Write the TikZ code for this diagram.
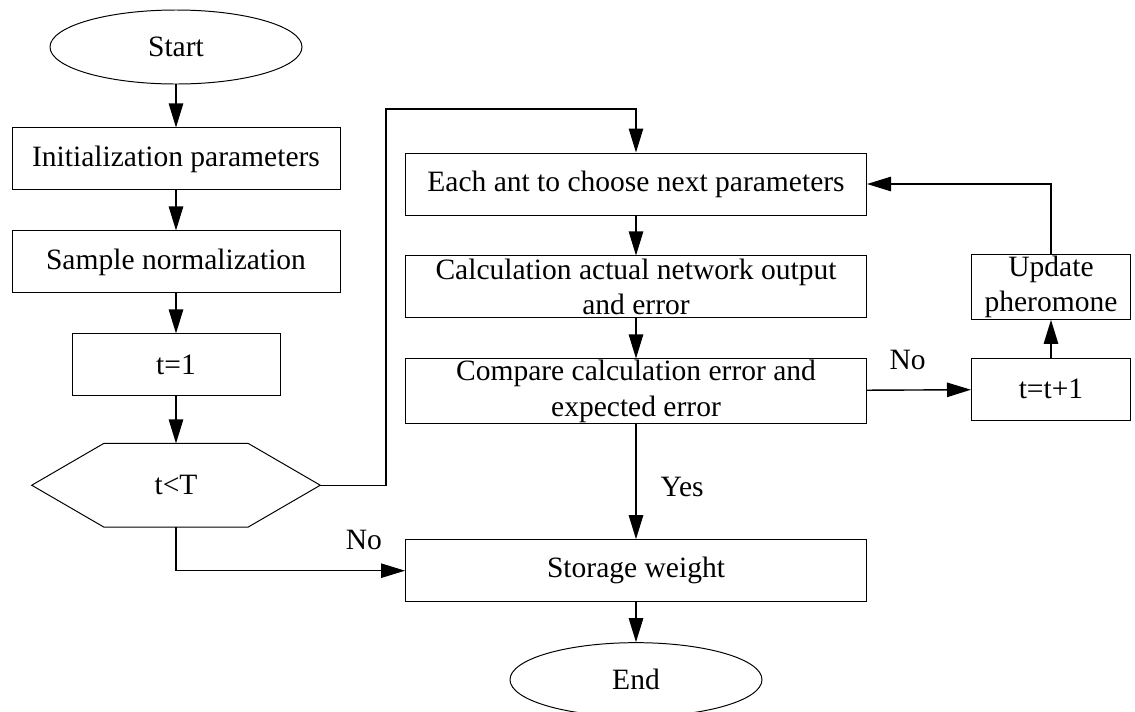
\documentclass[tikz,border=0pt]{standalone}
\usepackage{fontspec}
\setmainfont{Liberation Serif}
\usepackage{tikz}
\usetikzlibrary{positioning,arrows.meta,shapes.geometric,calc}
\tikzset{
  node-box/.style={draw,line width=0.7pt,minimum height=15.5mm,
    inner sep=1pt,align=center,font=\fontsize{21}{25}\selectfont},
  node-left/.style={node-box,minimum width=82mm},
  node-wide/.style={node-box,minimum width=115.25mm},
  node-small/.style={node-box,minimum width=39.75mm},
  node-term/.style={draw,line width=0.7pt,ellipse,minimum width=63mm,
    minimum height=18.5mm,inner sep=0pt,font=\fontsize{21}{25}\selectfont},
  node-label/.style={font=\fontsize{21}{25}\selectfont,inner sep=0pt},
  arrow/.style={-{Triangle[length=6mm,width=3.6mm]},line width=1pt},
  line/.style={line width=1pt},
}
\begin{document}
\begin{tikzpicture}[node distance=10mm and 26mm]
  \useasboundingbox (0,0) rectangle (28.375,-17.775);
  % left column
  \node[node-term] (start) at (4.4,-1.175) {Start};
  \node[node-left,below=10.75mm of start] (init) {Initialization parameters};
  \node[node-left,below=of init] (norm) {Sample normalization};
  \node[node-box,minimum width=52mm,below=of norm] (tone) {t=1};
  \node[minimum width=72mm,minimum height=20.75mm,inner sep=0pt,
    font=\fontsize{21}{25}\selectfont,below=11.75mm of tone] (test) {t\textless T};
  \draw[line width=0.7pt] (test.west) -- ([xshift=18mm]test.north west)
    -- ([xshift=-18mm]test.north east) -- (test.east)
    -- ([xshift=-18mm]test.south east) -- ([xshift=18mm]test.south west) -- cycle;
  % right column
  \node[node-wide] (ant) at (15.9,-4.6) {Each ant to choose next parameters};
  \node[node-wide,below=of ant] (calc) {Calculation actual network output\\and error};
  \node[node-wide,below=of calc] (cmp) {Compare calculation error and\\expected error};
  \node[node-wide,below=28.75mm of cmp] (store) {Storage weight};
  \node[node-term,below=of store] (end) {End};
  \node[node-small,right=of calc] (upd) {Update\\pheromone};
  \node[node-small,below=9.5mm of upd] (tinc) {t=t+1};
  \coordinate (loop) at (9.65,-2.725);
  % connectors
  \draw[arrow] (start) -- (init);
  \draw[arrow] (init) -- (norm);
  \draw[arrow] (norm) -- (tone);
  \draw[arrow] (tone) -- (test);
  \draw[arrow] (test.east) -| (loop) -| (ant.north);
  \draw[arrow] (test.south) |- node[node-label,above=5mm,pos=0.91]{No} (store.west);
  \draw[arrow] (ant) -- (calc);
  \draw[arrow] (calc) -- (cmp);
  \draw[arrow] (cmp) -- node[node-label,right=6mm,pos=0.55]{Yes} (store);
  \draw[arrow] (cmp) -- node[node-label,above=5mm,pos=0.39]{No} (tinc);
  \draw[arrow] (tinc) -- (upd);
  \draw[arrow] (upd.north) |- (ant.east);
  \draw[arrow] (store) -- (end);
\end{tikzpicture}
\end{document}
